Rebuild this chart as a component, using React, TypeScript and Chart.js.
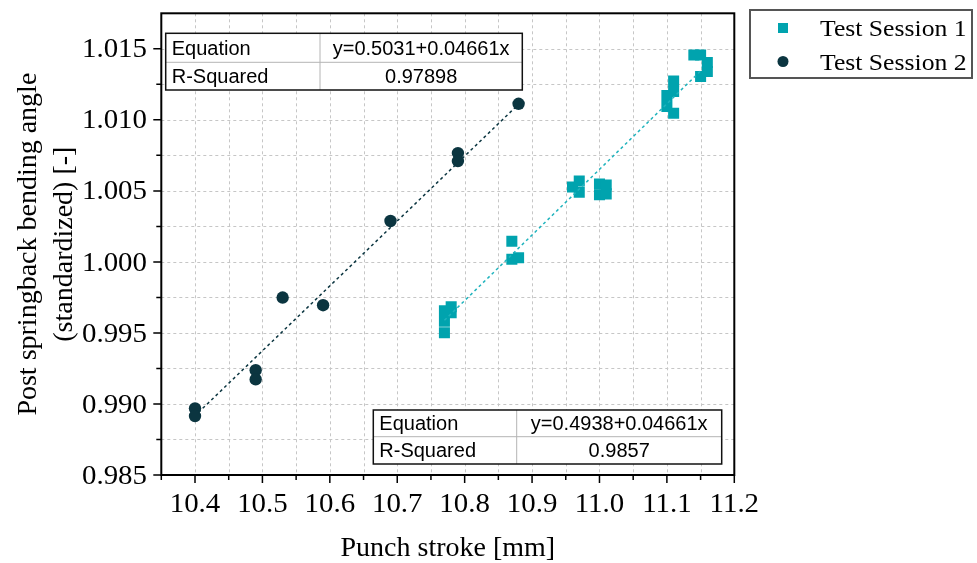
import React, { useEffect, useRef } from 'react';
import { Chart, registerables } from 'chart.js';

Chart.register(...registerables);

// ---------- data ----------
const seriesNames = ['Test Session 1', 'Test Session 2'];

const session1X = [10.77, 10.77, 10.77, 10.78, 10.78, 10.87, 10.87, 10.88, 10.96, 10.97, 10.97, 11.0, 11.0, 11.01, 11.01, 11.11, 11.11, 11.11, 11.1, 11.1, 11.14, 11.15, 11.16, 11.16, 11.15];
const session1Y = [0.99656, 0.99583, 0.99502, 0.99684, 0.99642, 1.00145, 1.00019, 1.00029, 1.00528, 1.0057, 1.0049, 1.00549, 1.00472, 1.00542, 1.00479, 1.01274, 1.012, 1.01047, 1.01172, 1.01094, 1.01456, 1.01456, 1.01404, 1.0134, 1.01305];

const session2X = [10.88, 10.79, 10.79, 10.69, 10.53, 10.59, 10.49, 10.49, 10.4, 10.4];
const session2Y = [1.01113, 1.00766, 1.0071, 1.00288, 0.99749, 0.99695, 0.99238, 0.99173, 0.98969, 0.98915];

const fit1X = [10.77, 11.15];
const fit1Y = [0.99589, 1.01344];
const fit2X = [10.405, 10.88];
const fit2Y = [0.9894, 1.0111];

const xTicks = [10.4, 10.5, 10.6, 10.7, 10.8, 10.9, 11.0, 11.1, 11.2];
const xTickLabels = ['10.4', '10.5', '10.6', '10.7', '10.8', '10.9', '11.0', '11.1', '11.2'];
const yTicks = [0.985, 0.99, 0.995, 1.0, 1.005, 1.01, 1.015];
const yTickLabels = ['0.985', '0.990', '0.995', '1.000', '1.005', '1.010', '1.015'];

const xTitle = 'Punch stroke [mm]';
const yTitleLines = ['Post springback bending angle', '(standardized) [-]'];

const table1Rows = [
  ['Equation', 'y=0.5031+0.04661x'],
  ['R-Squared', '0.97898'],
];
const table2Rows = [
  ['Equation', 'y=0.4938+0.04661x'],
  ['R-Squared', '0.9857'],
];

// ---------- style ----------
const TEAL = '#00a3ae';
const DARK = '#0b3540';
const SERIF = '"Liberation Serif", "Times New Roman", serif';
const SANS = '"Liberation Sans", Arial, sans-serif';
const W = 977;
const H = 563;

function drawText(ctx: any, s: string, x: number, y: number, align: string, font: string, sx = 1) {
  ctx.save();
  ctx.translate(x, y);
  ctx.scale(sx, 1);
  ctx.font = font;
  ctx.fillStyle = '#000';
  ctx.textAlign = align;
  ctx.textBaseline = 'alphabetic';
  ctx.fillText(s, 0, 0);
  ctx.restore();
}

function drawTable(ctx: any, x0: number, y0: number, x1: number, y1: number, xd: number, ym: number, rows: string[][]) {
  ctx.save();
  ctx.fillStyle = '#fff';
  ctx.fillRect(x0, y0, x1 - x0, y1 - y0);
  ctx.strokeStyle = '#b4b4b4';
  ctx.lineWidth = 1;
  ctx.beginPath();
  ctx.moveTo(xd, y0);
  ctx.lineTo(xd, y1);
  ctx.moveTo(x0, ym);
  ctx.lineTo(x1, ym);
  ctx.stroke();
  ctx.strokeStyle = '#111';
  ctx.lineWidth = 1.5;
  ctx.strokeRect(x0, y0, x1 - x0, y1 - y0);
  const tops = [y0, ym];
  const bots = [ym, y1];
  rows.forEach((r, i) => {
    const base = (tops[i] + bots[i]) / 2 + 7;
    drawText(ctx, r[0], x0 + 6, base, 'left', `20px ${SANS}`);
    drawText(ctx, r[1], (xd + x1) / 2, base, 'center', `20px ${SANS}`);
  });
  ctx.restore();
}

const decorPlugin = {
  id: 'decor',
  beforeDatasetsDraw(chart: any) {
    const { ctx, chartArea, scales } = chart;
    const { left, right, top, bottom } = chartArea;
    const xs = scales.x;
    const ys = scales.y;
    ctx.save();
    ctx.strokeStyle = '#c6c6c6';
    ctx.lineWidth = 1;
    ctx.setLineDash([3, 3]);
    ctx.beginPath();
    for (let i = 0; i < 16; i++) {
      const v = 10.4 + i * 0.05;
      const px = Math.round(xs.getPixelForValue(v)) + 0.5;
      ctx.moveTo(px, top);
      ctx.lineTo(px, bottom);
    }
    for (let i = 1; i <= 12; i++) {
      const v = 0.985 + i * 0.0025;
      const py = Math.round(ys.getPixelForValue(v)) + 0.5;
      ctx.moveTo(left, py);
      ctx.lineTo(right, py);
    }
    ctx.stroke();
    ctx.restore();
  },
  afterDatasetsDraw(chart: any) {
    const { ctx } = chart;
    drawTable(ctx, 165.7, 33.3, 522.3, 90, 320, 62.3, table1Rows);
    drawTable(ctx, 373.3, 410, 721.7, 464, 516.7, 436.7, table2Rows);
  },
  afterDraw(chart: any) {
    const { ctx, chartArea, scales } = chart;
    const { left, right, top, bottom } = chartArea;
    const xs = scales.x;
    const ys = scales.y;
    ctx.save();
    // frame
    ctx.strokeStyle = '#000';
    ctx.lineWidth = 2;
    ctx.strokeRect(left, top, right - left, bottom - top);
    // ticks
    ctx.lineWidth = 1.5;
    ctx.beginPath();
    yTicks.forEach((v) => {
      const py = ys.getPixelForValue(v);
      ctx.moveTo(left - 8, py);
      ctx.lineTo(left, py);
    });
    for (let i = 0; i < yTicks.length - 1; i++) {
      const py = ys.getPixelForValue((yTicks[i] + yTicks[i + 1]) / 2);
      ctx.moveTo(left - 5, py);
      ctx.lineTo(left, py);
    }
    xTicks.forEach((v) => {
      const px = xs.getPixelForValue(v);
      ctx.moveTo(px, bottom);
      ctx.lineTo(px, bottom + 8);
    });
    for (let i = 0; i < xTicks.length - 1; i++) {
      const px = xs.getPixelForValue((xTicks[i] + xTicks[i + 1]) / 2);
      ctx.moveTo(px, bottom);
      ctx.lineTo(px, bottom + 5);
    }
    {
      const px = xs.getPixelForValue(xTicks[0] - 0.05);
      ctx.moveTo(px, bottom);
      ctx.lineTo(px, bottom + 5);
    }
    ctx.stroke();
    // tick labels
    yTicks.forEach((v, i) => {
      const py = ys.getPixelForValue(v);
      drawText(ctx, yTickLabels[i], 147, py + 8.6, 'right', `27px ${SERIF}`, 1.07);
    });
    xTicks.forEach((v, i) => {
      const px = xs.getPixelForValue(v);
      drawText(ctx, xTickLabels[i], px, 512, 'center', `27px ${SERIF}`, 1.07);
    });
    // axis titles
    drawText(ctx, xTitle, (left + right) / 2, 556, 'center', `28px ${SERIF}`);
    ctx.save();
    ctx.translate(0, (top + bottom) / 2);
    ctx.rotate(-Math.PI / 2);
    ctx.font = `28px ${SERIF}`;
    ctx.fillStyle = '#000';
    ctx.textAlign = 'center';
    ctx.textBaseline = 'alphabetic';
    ctx.fillText(yTitleLines[0], 0, 36);
    ctx.fillText(yTitleLines[1], 0, 72);
    ctx.restore();
    // legend
    ctx.strokeStyle = '#555';
    ctx.lineWidth = 2;
    ctx.strokeRect(750, 10, 222, 68);
    ctx.fillStyle = TEAL;
    ctx.fillRect(778, 23, 10, 10);
    ctx.fillStyle = DARK;
    ctx.beginPath();
    ctx.arc(783, 61.5, 5.5, 0, Math.PI * 2);
    ctx.fill();
    drawText(ctx, seriesNames[0], 820, 36, 'left', `24px ${SERIF}`, 1.07);
    drawText(ctx, seriesNames[1], 820, 69.5, 'left', `24px ${SERIF}`, 1.07);
    ctx.restore();
  },
};

export default function App() {
  const ref = useRef<HTMLCanvasElement | null>(null);
  useEffect(() => {
    const canvas = ref.current;
    if (!canvas) return;
    const chart = new Chart(canvas, {
      type: 'scatter',
      data: {
        datasets: [
          {
            type: 'line',
            label: 'fit1',
            data: fit1X.map((x, i) => ({ x, y: fit1Y[i] })),
            borderColor: '#1fb3bd',
            borderWidth: 1.5,
            borderDash: [3, 3],
            pointRadius: 0,
            fill: false,
            showLine: true,
            order: -1,
          } as any,
          {
            type: 'line',
            label: 'fit2',
            data: fit2X.map((x, i) => ({ x, y: fit2Y[i] })),
            borderColor: DARK,
            borderWidth: 1.5,
            borderDash: [3, 3],
            pointRadius: 0,
            fill: false,
            showLine: true,
            order: -1,
          } as any,
          {
            label: seriesNames[0],
            data: session1X.map((x, i) => ({ x, y: session1Y[i] })),
            pointStyle: 'rect',
            pointRadius: 7.8,
            backgroundColor: TEAL,
            borderWidth: 0,
            showLine: false,
          },
          {
            label: seriesNames[1],
            data: session2X.map((x, i) => ({ x, y: session2Y[i] })),
            pointStyle: 'circle',
            pointRadius: 6.2,
            backgroundColor: DARK,
            borderWidth: 0,
            showLine: false,
          },
        ],
      },
      options: {
        responsive: false,
        animation: false,
        devicePixelRatio: 1,
        events: [],
        layout: { padding: { left: 0, top: 13.3, right: W - 734.3, bottom: 0 } },
        plugins: { legend: { display: false }, tooltip: { enabled: false }, title: { display: false } },
        scales: {
          x: {
            type: 'linear',
            min: 10.35,
            max: 11.2,
            ticks: { display: false },
            grid: { display: false },
            border: { display: false },
            afterFit: (s: any) => { s.height = H - 475; },
          },
          y: {
            type: 'linear',
            min: 0.985,
            max: 1.0175,
            ticks: { display: false },
            grid: { display: false },
            border: { display: false },
            afterFit: (s: any) => { s.width = 161.3; },
          },
        },
      } as any,
      plugins: [decorPlugin],
    });
    return () => chart.destroy();
  }, []);
  return (
    <div style={{ position: 'fixed', left: 0, top: 0, width: W, height: H, background: '#fff' }}>
      <canvas ref={ref} width={W} height={H} style={{ display: 'block' }} />
    </div>
  );
}
